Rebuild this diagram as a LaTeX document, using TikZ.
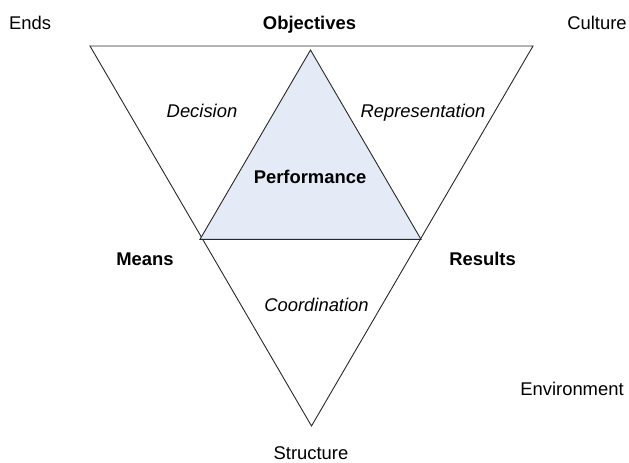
\documentclass[tikz,border=0pt]{standalone}
\usepackage{fontspec}
\setmainfont{Liberation Sans}
\definecolor{perfblue}{RGB}{228,234,246}
\definecolor{edge}{RGB}{40,40,40}
\begin{document}
\begin{tikzpicture}[x=1pt,y=-1pt,
  lbl/.style={anchor=base,inner sep=0pt,font=\fontsize{18.4}{20}\selectfont},
  blbl/.style={lbl,font=\fontsize{18.4}{20}\selectfont\bfseries},
  ilbl/.style={lbl,font=\fontsize{18.4}{20}\selectfont\itshape},
  edgeline/.style={draw=edge,line width=0.9pt,line join=miter}]
\useasboundingbox (0,0) rectangle (629,463);
\fill[white] (0,0) rectangle (629,463);
% outer inverted triangle
\coordinate (OL) at (90,46);
\coordinate (OR) at (533,46);
\coordinate (OB) at (311.5,426);
% inner triangle
\coordinate (IA) at (310.5,50);
\coordinate (IL) at (200,239.3);
\coordinate (IR) at (421,239.3);
\draw[edgeline] (OL) -- (OR) -- (OB) -- cycle;
\filldraw[edgeline,fill=perfblue] (IA) -- (IR) -- (IL) -- cycle;
% labels
\node[lbl]  (ends)  at (30,29.5) {Ends};
\node[blbl] (obj)   at (309.5,29.5) {Objectives};
\node[lbl]  (cult)  at (597,29.5) {Culture};
\node[ilbl] (dec)   at (202,117.5) {Decision};
\node[ilbl] (rep)   at (423,117.5) {Representation};
\node[blbl] (perf)  at (310,183.5) {Performance};
\node[blbl] (means) at (145,265.5) {Means};
\node[blbl] (res)   at (482.5,265.5) {Results};
\node[ilbl] (coord) at (316.5,311.5) {Coordination};
\node[lbl]  (env)   at (572,395.5) {Environment};
\node[lbl]  (struc) at (311,459.5) {Structure};
\end{tikzpicture}
\end{document}
